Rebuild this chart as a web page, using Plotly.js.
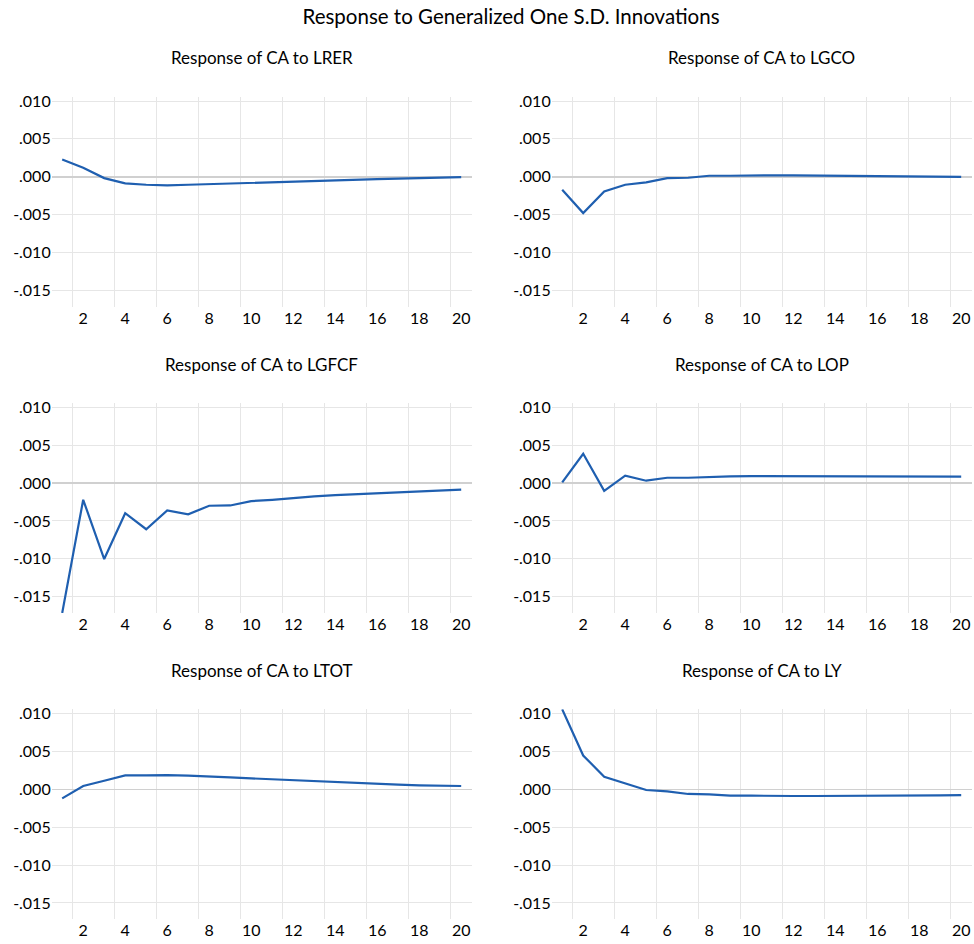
<!DOCTYPE html>
<html>
<head>
<meta charset="utf-8">
<script src="https://cdn.plot.ly/plotly-3.0.1.min.js"></script>
<style>html,body{margin:0;padding:0;background:#fff;}#chart{width:974px;height:944px;}</style>
</head>
<body>
<div id="chart"></div>
<script>
// Periods
const periods = [1,2,3,4,5,6,7,8,9,10,11,12,13,14,15,16,17,18,19,20];

// Responses of CA
const lrer  = [0.00229,0.00119,-0.00018,-0.00088,-0.00106,-0.00114,-0.00106,-0.00097,-0.00088,-0.00075,-0.00066,-0.00057,-0.00050,-0.00044,-0.00037,-0.00031,-0.00026,-0.00022,-0.00018,-0.00005];
const lgco  = [-0.00172,-0.00480,-0.00194,-0.00106,-0.00075,-0.00018,-0.00013,0.00013,0.00013,0.00018,0.00018,0.00018,0.00015,0.00013,0.00011,0.00009,0.00007,0.00004,0.00002,-0.00002];
const lgfcf = [-0.01716,-0.00221,-0.01004,-0.00398,-0.00610,-0.00363,-0.00412,-0.00300,-0.00296,-0.00239,-0.00221,-0.00195,-0.00177,-0.00159,-0.00146,-0.00133,-0.00124,-0.00115,-0.00102,-0.00088];
const lop   = [0.00009,0.00387,-0.00102,0.00097,0.00031,0.00070,0.00070,0.00084,0.00088,0.00092,0.00092,0.00092,0.00092,0.00092,0.00090,0.00090,0.00090,0.00088,0.00084,0.00084];
const ltot  = [-0.00119,0.00044,0.00114,0.00185,0.00185,0.00189,0.00180,0.00172,0.00158,0.00145,0.00132,0.00119,0.00106,0.00092,0.00079,0.00070,0.00062,0.00053,0.00048,0.00044];
const ly    = [0.01057,0.00447,0.00167,0.00079,-0.00009,-0.00026,-0.00061,-0.00066,-0.00083,-0.00083,-0.00088,-0.00088,-0.00088,-0.00088,-0.00086,-0.00083,-0.00083,-0.00081,-0.00079,-0.00075];

const seriesList = [lrer, lgco, lgfcf, lop, ltot, ly];
const panelTitles = ["Response of CA to LRER","Response of CA to LGCO","Response of CA to LGFCF","Response of CA to LOP","Response of CA to LTOT","Response of CA to LY"];
const mainTitle = "Response to Generalized One S.D. Innovations";

const yTickVals = [0.010,0.005,0.000,-0.005,-0.010,-0.015];
const yTickText = [".010",".005",".000","-.005","-.010","-.015"];
const xTickVals = [2,4,6,8,10,12,14,16,18,20];
const xTickText = ["2","4","6","8","10","12","14","16","18","20"];

const W = 974, H = 944;
const colX = [[51.7,471.7],[551.7,971.7]];
const rowTop = [96.7, 403, 709.3];
const plotH = 210;

const FONT = "Lato, 'Open Sans', sans-serif";
const lineColor = "#1f5fb0";

const traces = [];
const layout = {
  width: W, height: H,
  margin: {l:0,r:0,t:0,b:0},
  paper_bgcolor: "#fff", plot_bgcolor: "#fff",
  showlegend: false,
  font: {family: FONT, size: 16, color: "#000"},
  annotations: [],
  title: {text: mainTitle, x: 511/W, xref: "paper", xanchor: "center", y: 1 - 17/H, yref: "paper", yanchor: "middle",
          font: {family: FONT, size: 20.5, color: "#000"}}
};

for (let i = 0; i < 6; i++) {
  const r = Math.floor(i / 2), c = i % 2;
  const n = i + 1;
  const sfx = (n === 1 ? "" : String(n));
  traces.push({
    x: periods, y: seriesList[i], type: "scatter", mode: "lines",
    line: {color: lineColor, width: 2.2},
    xaxis: "x" + sfx, yaxis: "y" + sfx,
    hoverinfo: "skip"
  });
  layout["xaxis" + sfx] = {
    domain: [colX[c][0] / W, colX[c][1] / W],
    range: [0.5, 20.5],
    anchor: "y" + sfx,
    tickmode: "array", tickvals: xTickVals, ticktext: xTickText,
    showgrid: false, zeroline: false, showline: false, ticks: "",
    tickfont: {family: FONT, size: 16, color: "#000"},
    minor: {tickmode: "linear", tick0: 1.5, dtick: 2, showgrid: true, gridcolor: "#e6e6e6", gridwidth: 1, ticks: ""},
    fixedrange: true
  };
  const top = rowTop[r], bot = top + plotH;
  layout["yaxis" + sfx] = {
    domain: [1 - bot / H, 1 - top / H],
    range: [-0.01716, 0.01057],
    anchor: "x" + sfx,
    tickmode: "array", tickvals: yTickVals, ticktext: yTickText,
    showgrid: true, gridcolor: "#e6e6e6", gridwidth: 1,
    zeroline: true, zerolinecolor: "#d0d0d0", zerolinewidth: 1.5,
    showline: false, ticks: "",
    ticklabelstandoff: 0,
    tickfont: {family: FONT, size: 16, color: "#000"},
    fixedrange: true
  };
  layout.annotations.push({
    text: panelTitles[i], xref: "paper", yref: "paper",
    x: (colX[c][0] + colX[c][1]) / 2 / W, y: 1 - (top - 39) / H,
    xanchor: "center", yanchor: "middle", showarrow: false,
    font: {family: FONT, size: 17, color: "#000"}
  });
}

Plotly.newPlot("chart", traces, layout, {staticPlot: true, displayModeBar: false});
</script>
</body>
</html>
